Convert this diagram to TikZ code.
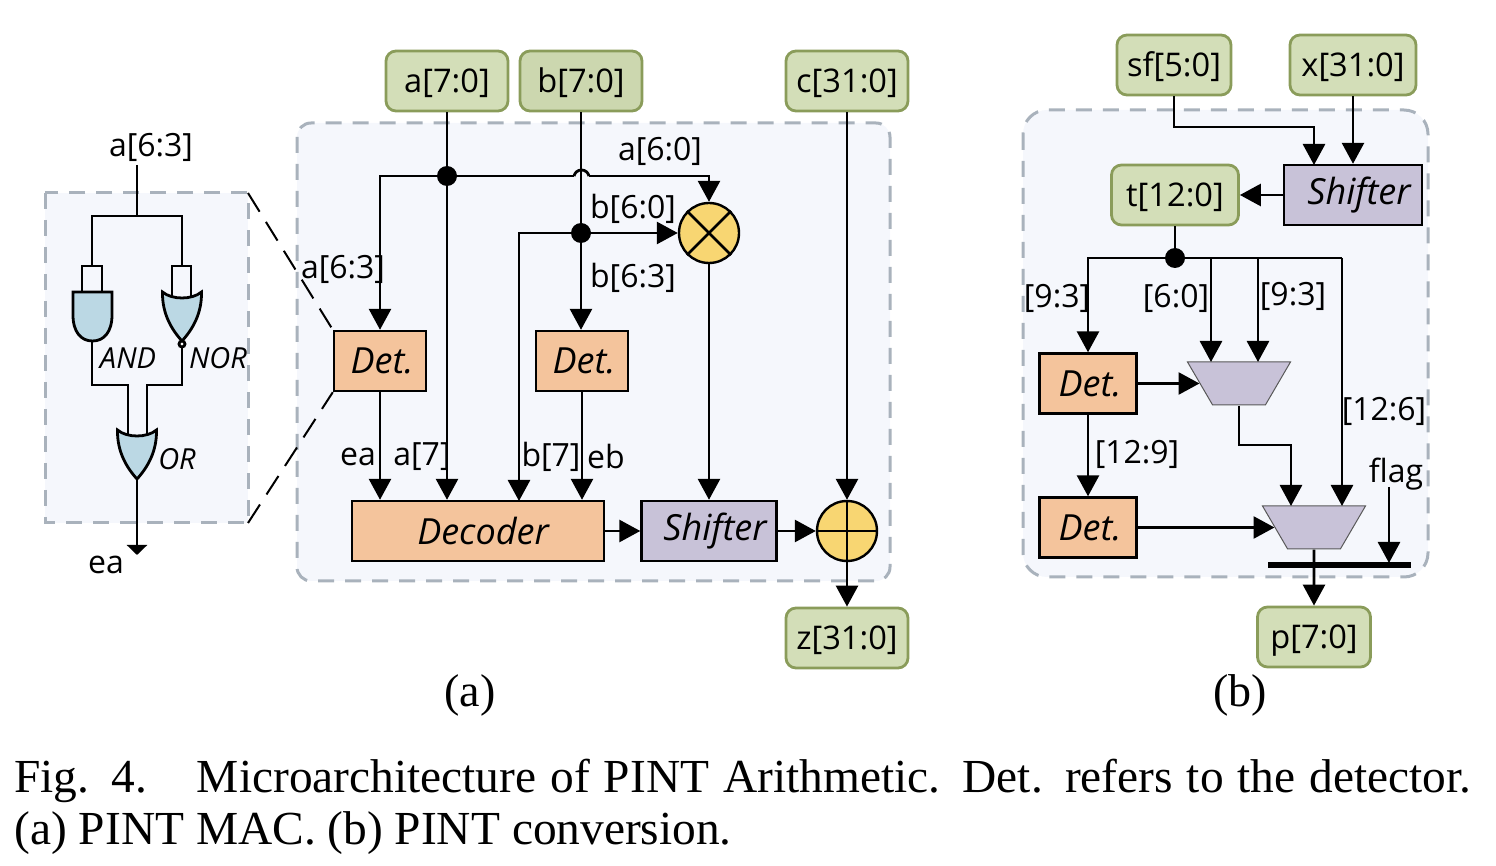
\documentclass[tikz,border=0pt]{standalone}
\usepackage{fontspec}
\setmainfont{Open Sans}
\newfontfamily\capfont{Liberation Serif}
\usetikzlibrary{arrows.meta,shapes.geometric}

\definecolor{panelfill}{HTML}{F5F7FC}
\definecolor{paneldash}{HTML}{A9B2BC}
\definecolor{portfill}{HTML}{D3DEB8}
\definecolor{portline}{HTML}{8A9C5A}
\definecolor{detfill}{HTML}{F4C49C}
\definecolor{shiftfill}{HTML}{C8C2D8}
\definecolor{opfill}{HTML}{F8D672}
\definecolor{gatefill}{HTML}{BBD8E4}

\tikzset{
    wire/.style={line width=1.4pt},
    arrowwire/.style={wire, -{Triangle[length=10.5pt,width=11pt]}},
    flatwire/.style={wire, -{Triangle[length=5pt,width=10pt]}},
    panelbox/.style={draw=paneldash, fill=panelfill, line width=1.5pt, dash pattern=on 8pt off 5.5pt},
    portbox/.style={draw=portline, fill=portfill, line width=1.4pt, rounded corners=5pt, inner sep=0pt,
        minimum height=30pt, text height=13.5pt, text depth=2pt, font=\fontsize{16.3}{20}\selectfont},
    detbox/.style={draw, fill=detfill, line width=1.2pt, inner sep=0pt, minimum height=30pt,
        font=\fontsize{18}{20}\selectfont\itshape},
    shiftbox/.style={detbox, fill=shiftfill},
    opcircle/.style={circle, draw, fill=opfill, line width=1.2pt, minimum size=30pt, inner sep=0pt},
    junction/.style={circle, fill=black, minimum size=10pt, inner sep=0pt},
    muxbox/.style={trapezium, shape border rotate=180, trapezium stretches=true, trapezium left angle=65,
        trapezium right angle=65, draw=black!65, fill=shiftfill, line width=0.5pt, minimum width=51.5pt,
        minimum height=21.5pt, inner sep=0pt},
    lbl/.style={inner sep=0pt, yshift=-1pt, font=\fontsize{16}{18}\selectfont},
    gatelbl/.style={inner sep=0pt, font=\fontsize{14.5}{15}\selectfont\itshape},
    orgate/.pic={
        \draw[wire, fill=gatefill] (-19.5,0) .. controls (-10,8) and (10,8) .. (19.5,0)
            .. controls (20,22) and (10,38) .. (0,49)
            .. controls (-10,38) and (-20,22) .. (-19.5,0) -- cycle;
    }
}

\begin{document}
\begin{tikzpicture}[x=0.5pt, y=-0.5pt]
    \useasboundingbox (0,0) rectangle (1496,866);

    % Panels
    \draw[panelbox] (45,193) rectangle (248,523);
    \draw[panelbox, rounded corners=7pt] (297,123) rectangle (890,581);
    \draw[panelbox, rounded corners=12pt] (1023,110) rectangle (1428,577);

    % Zoom lines
    \coordinate (zoomtop) at (248,193);
    \coordinate (zoombot) at (248,523);

    % (a) ports and blocks
    \node[portbox, minimum width=61pt] (ain) at (447,81) {a[7:0]};
    \node[portbox, minimum width=61pt, fill=portfill!90!portline] (bin) at (581,81) {b[7:0]};
    \node[portbox, minimum width=61pt] (cin) at (847,81) {c[31:0]};
    \node[portbox, minimum width=61pt] (zout) at (847,638) {z[31:0]};
    \node[detbox, minimum width=46pt] (deta) at (380,361) {\hspace{2pt}Det.};
    \node[detbox, minimum width=46pt] (detb) at (582,361) {\hspace{2pt}Det.};
    \node[detbox, minimum width=126pt] (decoder) at (478,531) {\hspace{5pt}Decoder};
    \node[shiftbox, minimum width=67.5pt] (shiftera) at (709,531) {\hspace{6pt}Shifter};
    \node[opcircle] (mult) at (709,233) {};
    \node[opcircle] (adder) at (847,531) {};
    \node[junction] (ja) at (447,176) {};
    \node[junction] (jb) at (581,233) {};
    \coordinate (jumpl) at (574,176);
    \coordinate (jumpr) at (589,176);

    \draw[wire] (mult.north west) -- (mult.south east);
    \draw[wire] (mult.north east) -- (mult.south west);
    \draw[wire] (adder.north) -- (adder.south);
    \draw[wire] (adder.west) -- (adder.east);

    % (a) wires
    \draw[arrowwire] (ain.south) -- (ain |- decoder.north);
    \draw[arrowwire] (bin.south) -- (bin |- detb.north);
    \draw[arrowwire] (cin.south) -- (adder.north);
    \draw[arrowwire] (ja) -| (deta.north);
    \draw[wire] (ja) -- (jumpl);
    \draw[wire] (jumpl) .. controls (576,168) and (587,168) .. (jumpr);
    \draw[arrowwire] (jumpr) -| (mult.north);
    \draw[arrowwire] (jb) -- (mult.west);
    \draw[arrowwire] (jb) -| (519,501);
    \draw[arrowwire] (deta.south) -- (deta |- decoder.north);
    \draw[arrowwire] (detb.south) -- (detb |- decoder.north);
    \draw[arrowwire] (mult.south) -- (shiftera.north);
    \draw[arrowwire] (decoder.east) -- (shiftera.west);
    \draw[arrowwire] (shiftera.east) -- (adder.west);
    \draw[arrowwire] (adder.south) -- (zout.north);

    % (a) labels
    \node[lbl] at (660,149) {a[6:0]};
    \node[lbl] at (633,207) {b[6:0]};
    \node[lbl] at (633,276) {b[6:3]};
    \node[lbl] at (343,267) {a[6:3]};
    \node[lbl] at (358,455) {ea};
    \node[lbl] at (422,455) {a[7]};
    \node[lbl] at (551,455) {b[7]};
    \node[lbl] at (606,455) {eb};

    \draw[line width=1pt, dash pattern=on 11pt off 6pt] (zoomtop) -- (deta.north west);
    \draw[line width=1pt, dash pattern=on 11pt off 6pt] (zoombot) -- (deta.south west);

    % Detector gates
    \node[lbl] (gatein) at (151,145) {a[6:3]};
    \coordinate (fork) at (137,216);
    \coordinate (join) at (137,385);
    \draw[wire] (137,165) -- (fork);
    \draw[wire] (92,266) |- (182,216) -- (182,266);
    \draw[wire] (82,292) |- (102,266) -- (102,292);
    \draw[wire] (172,302) |- (191,266) -- (191,302);
    \draw[wire] (92,341) |- (128,385) -- (128,442);
    \draw[wire] (182,347) |- (147,385) -- (147,442);
    \draw[wire, fill=gatefill] (73,292) -- (112,292) -- (112,315)
        .. controls (112,332) and (104,341) .. (92.5,341)
        .. controls (81,341) and (73,332) .. (73,315) -- cycle;
    \pic at (182,292) {orgate};
    \draw[wire, fill=white] (182,344) circle (3);
    \pic at (137,430) {orgate};
    \draw[flatwire] (137,479) -- (137,555);
    \node[gatelbl] at (128,358) {AND};
    \node[gatelbl] at (218,358) {NOR};
    \node[gatelbl] at (177,459) {OR};
    \node[lbl] at (106,563) {ea};

    % (b) ports and blocks
    \node[portbox, minimum width=57pt] (sfin) at (1174,65) {sf[5:0]};
    \node[portbox, minimum width=63pt] (xin) at (1353,65) {x[31:0]};
    \node[portbox, minimum width=63.5pt] (tout) at (1175,195) {t[12:0]};
    \node[portbox, minimum width=56.5pt] (pout) at (1314,637) {p[7:0]};
    \node[shiftbox, minimum width=69pt] (shifterb) at (1353,195) {\hspace{6pt}Shifter};
    \node[detbox, minimum width=48.5pt] (detc) at (1088,383.5) {\hspace{2pt}Det.};
    \node[detbox, minimum width=48.5pt] (detd) at (1088,527.5) {\hspace{2pt}Det.};
    \node[muxbox] (muxa) at (1239,383.5) {\phantom{x}};
    \node[muxbox] (muxb) at (1314,527.5) {\phantom{x}};
    \node[junction] (jt) at (1175,258) {};
    \coordinate (sfturn) at (1174,127);
    \coordinate (busl) at (1268,565);
    \coordinate (busr) at (1411,565);
    \coordinate (flagtop) at (1389,487);
    \coordinate (flagend) at (1389,563);

    % (b) wires
    \draw[arrowwire] (sfin.south) -- (sfturn) -| (1314,165);
    \draw[arrowwire] (xin.south) -- (xin |- shifterb.north);
    \draw[arrowwire] (shifterb.west) -- (tout.east);
    \draw[wire] (tout.south) -- (jt);
    \draw[arrowwire] (jt) -| (detc.north);
    \draw[wire] (jt) -- (1342,258);
    \draw[arrowwire] (1211,258) -- (1211,362);
    \draw[arrowwire] (1258,258) -- (1258,362);
    \draw[arrowwire] (1342,258) -- (1342,506);
    \draw[arrowwire] (detc.east) -- (muxa.west);
    \draw[arrowwire] (detd.east) -- (muxb.west);
    \draw[arrowwire] (detc.south) -- (detd.north);
    \draw[arrowwire] (muxa.south) |- (1291,445) -- (1291,506);
    \draw[arrowwire] (muxb.south) -- (pout.north);
    \draw[line width=3pt] (busl) -- (busr);
    \draw[arrowwire] (flagtop) -- (flagend);

    % (b) labels
    \node[lbl] at (1057,296) {[9:3]};
    \node[lbl] at (1176,296) {[6:0]};
    \node[lbl] at (1293,294) {[9:3]};
    \node[lbl] at (1384,409) {[12:6]};
    \node[lbl] at (1137,452) {[12:9]};
    \node[lbl] at (1396,472) {flag};

    % Captions
    \node[inner sep=0pt, font=\capfont\fontsize{23}{26}\selectfont] at (470,695) {(a)};
    \node[inner sep=0pt, font=\capfont\fontsize{23}{26}\selectfont] at (1240,695) {(b)};
    \node[inner sep=0pt, anchor=north west, text width=728.5pt, align=justify,
        font=\capfont\fontsize{23.7}{26}\selectfont] at (14,759)
        {Fig. 4.\hspace{1.05em}Microarchitecture of PINT Arithmetic. Det. refers to the detector.\linebreak (a) PINT MAC. (b) PINT conversion.};
\end{tikzpicture}
\end{document}
